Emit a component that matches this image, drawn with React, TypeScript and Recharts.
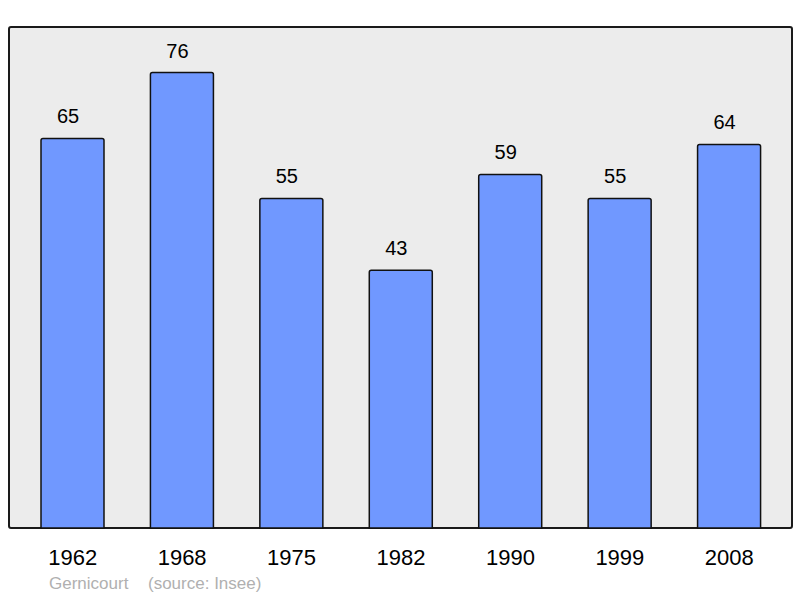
import React from "react";
import { BarChart, Bar, XAxis, YAxis, LabelList } from "recharts";

const years = ["1962", "1968", "1975", "1982", "1990", "1999", "2008"];
const population = [65, 76, 55, 43, 59, 55, 64];
const townName = "Gernicourt";
const sourceText = "(source: Insee)";

const data = years.map((year, i) => ({ year, value: population[i] }));

const FONT = "'Liberation Sans', Arial, Helvetica, sans-serif";

export default function App() {
  return (
    <div style={{ position: "absolute", left: 0, top: 0, width: 800, height: 598, fontFamily: FONT }}>
      <div
        style={{
          position: "absolute",
          left: 8,
          top: 26,
          width: 785,
          height: 503,
          boxSizing: "border-box",
          border: "2px solid #1a1a1a",
          borderRadius: 3,
          background: "#ececec",
        }}
      />
      <div style={{ position: "absolute", left: 0, top: 0 }}>
        <BarChart
          width={800}
          height={598}
          data={data}
          margin={{ top: 27, right: 8, bottom: 40, left: 9 }}
          style={{ fontFamily: FONT }}
        >
          <XAxis
            dataKey="year"
            axisLine={false}
            tickLine={false}
            tickSize={0}
            tickMargin={21}
            height={30}
            padding={{ left: 9, right: 8 }}
            interval={0}
            tick={{ fill: "#000", fontSize: 22, fontFamily: FONT }}
          />
          <YAxis hide domain={[0, 83.6]} />
          <Bar
            dataKey="value"
            fill="#7098ff"
            stroke="#111"
            strokeWidth={1.5}
            barSize={63}
            radius={[2, 2, 0, 0]}
            isAnimationActive={false}
          >
            <LabelList
              dataKey="value"
              position="top"
              offset={15}
              dx={-4.5}
              fill="#000"
              fontSize={20}
              fontFamily={FONT}
            />
          </Bar>
        </BarChart>
      </div>
      <div style={{ position: "absolute", left: 49, top: 574, fontSize: 17, color: "#b0b0b0", whiteSpace: "nowrap" }}>
        {townName}
      </div>
      <div style={{ position: "absolute", left: 148, top: 574, fontSize: 17, color: "#b0b0b0", whiteSpace: "nowrap" }}>
        {sourceText}
      </div>
    </div>
  );
}
